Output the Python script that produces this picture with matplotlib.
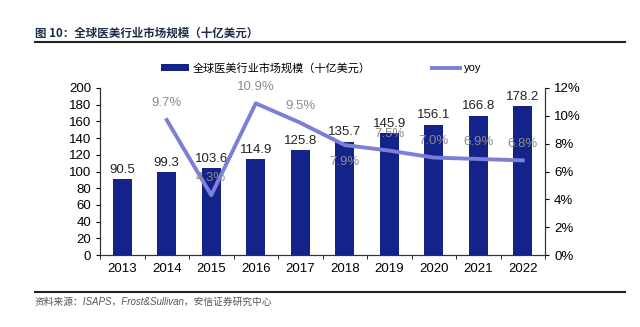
import matplotlib.pyplot as plt
import numpy as np

plt.rcParams['font.family'] = ['Liberation Sans', 'Noto Sans CJK SC', 'DejaVu Sans']

years = ['2013', '2014', '2015', '2016', '2017', '2018', '2019', '2020', '2021', '2022']
market = [90.5, 99.3, 103.6, 114.9, 125.8, 135.7, 145.9, 156.1, 166.8, 178.2]
yoy_years = ['2014', '2015', '2016', '2017', '2018', '2019', '2020', '2021', '2022']
yoy = [9.7, 4.3, 10.9, 9.5, 7.9, 7.5, 7.0, 6.9, 6.8]
yoy_below = ['2018']

bar_color = '#14238a'
line_color = '#7b7fd8'

fig = plt.figure(figsize=(6.4, 3.27), dpi=100)
ax = fig.add_axes([100/640, 1-255/327, 445/640, 167/327])
ax2 = ax.twinx()

x = np.arange(len(years))
bars = ax.bar(x, market, width=0.43, color=bar_color, label='全球医美行业市场规模（十亿美元）', zorder=2)
for xi, v in zip(x, market):
    ax.text(xi, v + 4, f'{v:.1f}', ha='center', va='bottom', fontsize=9.5, color='#222222')

ax.set_ylim(0, 200)
ax.set_yticks(range(0, 201, 20))
ax.set_xlim(-0.5, len(years) - 0.5)
ax.set_xticks(x)
ax.set_xticklabels(years)
ax.set_xticks(np.arange(-0.5, len(years), 1), minor=True)
ax.tick_params(axis='x', which='major', length=0, pad=6, labelsize=9.5)
ax.tick_params(axis='x', which='minor', length=3, direction='out')
ax.tick_params(axis='y', length=3, labelsize=9.5)

xl = [years.index(y) for y in yoy_years]
line, = ax2.plot(xl, yoy, color=line_color, lw=2.8, label='yoy', zorder=3)
for xi, yr, v in zip(xl, yoy_years, yoy):
    off = -1.2 if yr in yoy_below else 1.2
    ax2.text(xi, v + off, f'{v:.1f}%', ha='center', va='center', fontsize=9.5, color='#8c8c8c')
ax2.set_ylim(0, 12)
ax2.set_yticks(range(0, 13, 2))
ax2.set_yticklabels([f'{t}%' for t in range(0, 13, 2)])
ax2.tick_params(axis='y', length=3, labelsize=9.5)

for a in (ax, ax2):
    a.spines['top'].set_visible(False)
    for s in a.spines.values():
        s.set_color('#333333')

fig.legend(handles=[bars, line], loc='center', bbox_to_anchor=(0.502, 1-68/327), ncol=2,
           frameon=False, fontsize=8, handlelength=2.5, columnspacing=5.5, handletextpad=0.4)

fig.text(35/640, 1-33/327, '图 10：全球医美行业市场规模（十亿美元）', fontsize=8.3, fontweight='bold',
         color='#1c2b4a', va='center', family=['Noto Sans CJK SC', 'DejaVu Sans'])
fig.add_artist(plt.Line2D([35/640, 625/640], [1-42/327, 1-42/327], color='#222222', lw=1.5))
fig.add_artist(plt.Line2D([35/640, 625/640], [1-292/327, 1-292/327], color='#222222', lw=1.5))
fig.text(35/640, 1-302/327, '资料来源：ISAPS，Frost&Sullivan，安信证券研究中心', fontsize=7,
         style='italic', color='#555555', va='center')

fig.savefig('out.png', dpi=100)
